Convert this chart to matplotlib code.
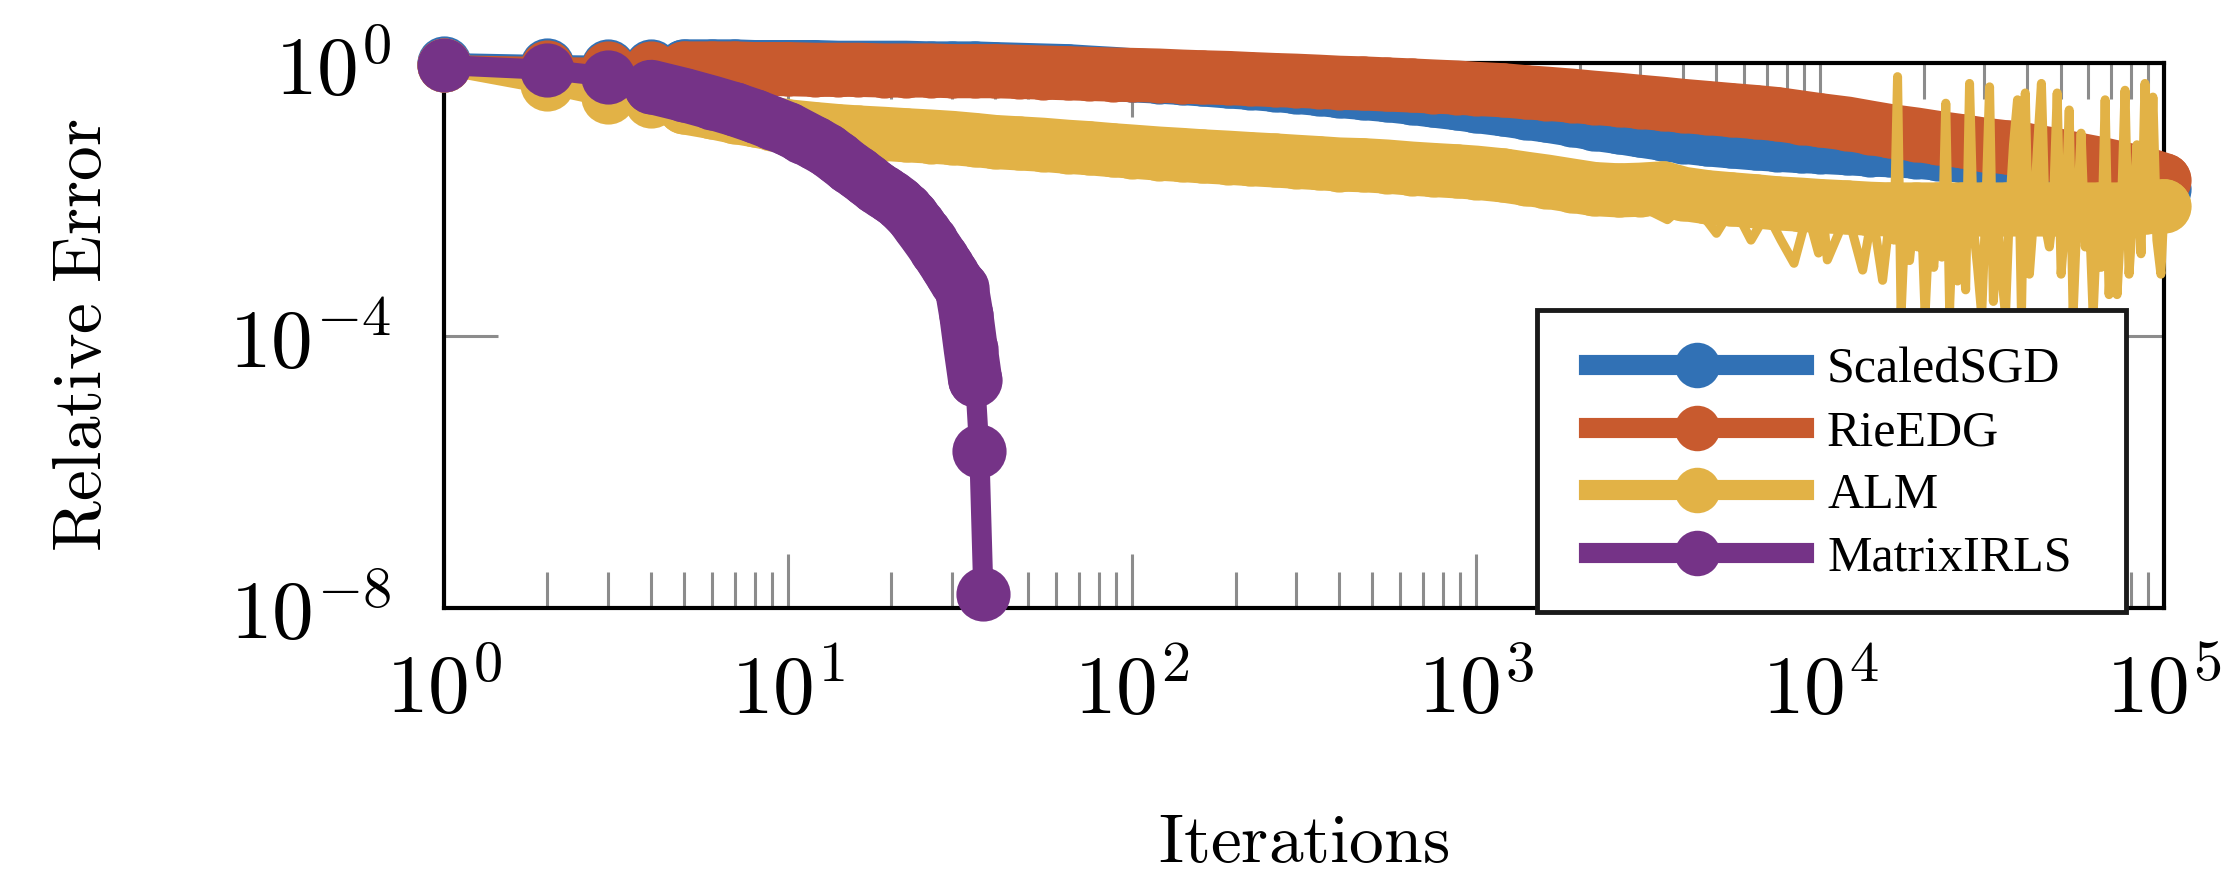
import numpy as np
import matplotlib
matplotlib.use('Agg')
import matplotlib.pyplot as plt
from matplotlib.patches import Rectangle
from matplotlib.ticker import LogLocator, NullLocator

plt.rcParams['mathtext.fontset'] = 'cm'

# iteration grid shared by ScaledSGD, RieEDG and ALM
iters = [1, 2, 3, 4, 5, 6, 7, 8, 9, 10,
         12, 14, 16, 19, 22, 26, 30, 35, 40, 47,
         55, 65, 75, 88, 100,
         120, 140, 160, 190, 220, 260, 300, 350, 400, 470,
         550, 650, 750, 880, 1000,
         1200, 1400, 1600, 1900, 2200, 2600, 3000, 3500, 4000, 4700,
         5500, 6500, 7500, 8800, 10000,
         12000, 14000, 16000, 19000, 22000, 26000, 30000, 35000, 40000, 47000,
         55000, 65000, 75000, 88000, 100000]

# log10 of relative error
sgd_log = [0.0, -0.03, -0.04, -0.04, -0.05, -0.05, -0.05, -0.06, -0.06, -0.06,
           -0.06, -0.07, -0.07, -0.07, -0.07, -0.08, -0.08, -0.08, -0.09, -0.10,
           -0.11, -0.12, -0.14, -0.16, -0.18,
           -0.20, -0.22, -0.24, -0.27, -0.29, -0.32, -0.35, -0.38, -0.41, -0.44,
           -0.47, -0.51, -0.55, -0.59, -0.63,
           -0.68, -0.73, -0.77, -0.83, -0.89, -0.94, -0.99, -1.04, -1.08, -1.12,
           -1.15, -1.18, -1.20, -1.22, -1.23,
           -1.25, -1.27, -1.28, -1.30, -1.33, -1.36, -1.39, -1.42, -1.45, -1.48,
           -1.53, -1.58, -1.64, -1.72, -1.85]

rie_log = [-0.03, -0.06, -0.07, -0.07, -0.08, -0.08, -0.08, -0.09, -0.09, -0.09,
           -0.10, -0.10, -0.10, -0.11, -0.11, -0.11, -0.12, -0.12, -0.12, -0.13,
           -0.14, -0.15, -0.16, -0.17, -0.175,
           -0.185, -0.20, -0.21, -0.22, -0.235, -0.25, -0.26, -0.275, -0.29, -0.30,
           -0.315, -0.33, -0.345, -0.36, -0.38,
           -0.40, -0.43, -0.45, -0.48, -0.51, -0.54, -0.57, -0.60, -0.63, -0.66,
           -0.69, -0.72, -0.75, -0.80, -0.84,
           -0.89, -0.95, -1.00, -1.05, -1.10, -1.15, -1.20, -1.24, -1.28, -1.34,
           -1.41, -1.48, -1.55, -1.63, -1.72]

alm_log = [-0.03, -0.31, -0.50, -0.56, -0.65, -0.72, -0.79, -0.84, -0.89, -0.93,
           -0.97, -1.00, -1.02, -1.04, -1.06, -1.08, -1.10, -1.13, -1.16, -1.18,
           -1.20, -1.23, -1.25, -1.28, -1.30,
           -1.33, -1.35, -1.37, -1.39, -1.41, -1.43, -1.45, -1.47, -1.49, -1.50,
           -1.52, -1.55, -1.57, -1.59, -1.61,
           -1.65, -1.70, -1.74, -1.80, -1.85, -1.87, -1.86, -1.84, -1.92, -1.97,
           -2.00, -2.03, -2.06, -2.08, -2.10,
           -2.12, -2.14, -2.15, -2.15, -2.15, -2.15, -2.15, -2.15, -2.15, -2.15,
           -2.15, -2.15, -2.15, -2.12, -2.10]

# ALM oscillations in the tail
alm_noise_iters = [3000, 3600, 4200, 5000, 5600, 6300, 7000, 7700, 8400, 9200,
                   9900, 10200, 10500, 12000, 13300, 14200, 15200,
                   16000, 16400, 16800, 17200, 17700, 18200, 18700, 19200, 19700, 20200,
                   20800, 21400, 22000, 22600, 23200, 23800, 24400, 25100, 25800, 26500,
                   27200, 27900, 28700, 29500, 30300, 31100, 31900, 32800, 33700, 34600,
                   35500, 36500, 37500, 38500, 39500, 40600, 41700, 42800, 44000, 45200,
                   46400, 47600, 48900, 50200, 51600, 53000, 54400, 55900, 57400, 59000,
                   60600, 62200, 63900, 65600, 67400, 69200, 71100, 73000, 75000, 77000,
                   79100, 81200, 83400, 85700, 88000, 90400, 92800, 95300, 97900, 100000]
alm_noise_log = [-2.1, -2.3, -2.0, -2.5, -2.1, -2.6, -2.2, -2.6, -2.94, -2.2,
                 -2.79, -2.2, -2.89, -2.2, -3.04, -2.2, -3.19,
                 -2.2, -2.6, -0.2, -3.7, -2.2, -2.9, -2.3, -2.7, -2.2, -3.7,
                 -2.3, -3.0, -2.2, -2.85, -0.59, -3.6, -2.2, -3.2, -2.3, -3.33,
                 -0.3, -2.4, -3.0, -3.7, -2.2, -0.35, -3.5, -2.3, -3.1, -3.7,
                 -2.2, -1.2, -0.54, -3.7, -0.44, -3.1, -2.3, -1.3, -0.3, -2.4,
                 -2.7, -2.2, -0.44, -3.1, -2.3, -0.69, -3.7, -2.2, -1.03, -2.7,
                 -2.2, -3.7, -2.3, -3.0, -0.54, -3.4, -2.2, -3.4, -2.3, -0.4,
                 -3.1, -2.2, -1.2, -2.8, -0.3, -2.3, -0.5, -2.6, -3.1, -2.1]

irls_iters = list(range(1, 38))
irls_log = [-0.03, -0.10, -0.20, -0.35, -0.47, -0.58, -0.68, -0.78, -0.88, -0.97,
            -1.08, -1.18, -1.28, -1.40, -1.52, -1.62, -1.72, -1.82, -1.90, -1.97,
            -2.05, -2.15, -2.25, -2.38, -2.50, -2.62, -2.74, -2.86, -2.98, -3.10,
            -3.22, -3.30, -3.70, -4.20, -4.65, -5.70, -7.80]

names = ['ScaledSGD', 'RieEDG', 'ALM', 'MatrixIRLS']
colors = ['#3171b5', '#c85a2e', '#e2b246', '#753387']

fig = plt.figure(figsize=(22.34, 8.8), dpi=100)
ax = fig.add_axes([0.1987, 0.3091, 0.77, 0.6193])
ax.set_xscale('log')
ax.set_yscale('log')
ax.set_xlim(1, 1e5)
ax.set_ylim(1e-8, 1)

lw = 14.5
ms = 39
# (x, log err, first index of the dense part, last index of the dense part)
series = [(iters, sgd_log, 4, None), (iters, rie_log, 4, None),
          (iters, alm_log, 4, None), (irls_iters, irls_log, 3, 35)]
handles = []
for (xs, ys, i0, i1), name, c in zip(series, names, colors):
    yv = 10.0 ** np.array(ys)
    h, = ax.plot(xs, yv, '-o', color=c, lw=lw, ms=ms, mew=0,
                 label=name, clip_on=False, zorder=3)
    handles.append(h)
    # dense iterations merge into a solid band
    ax.plot(xs[i0:i1], yv[i0:i1], '-', color=c, lw=ms, clip_on=False, zorder=3,
            solid_capstyle='round', solid_joinstyle='round')
    if name == 'ALM':
        ax.plot(alm_noise_iters, 10.0 ** np.array(alm_noise_log), '-', color=c,
                lw=6.5, clip_on=False, zorder=3)

ax.set_xticks([1, 10, 100, 1e3, 1e4, 1e5])
ax.set_xticklabels([r'$10^{0}$', r'$10^{1}$', r'$10^{2}$', r'$10^{3}$', r'$10^{4}$', r'$10^{5}$'])
ax.xaxis.set_minor_locator(LogLocator(base=10, subs=range(2, 10), numticks=30))
ax.set_yticks([1e-8, 1e-4, 1])
ax.set_yticklabels([r'$10^{-8}$', r'$10^{-4}$', r'$10^{0}$'])
ax.yaxis.set_minor_locator(NullLocator())
ax.set_axisbelow(True)
ax.tick_params(which='both', direction='in', top=True, right=True, color='0.55', width=2.2)
ax.tick_params(which='major', length=39)
ax.tick_params(which='minor', length=26)
ax.tick_params(axis='x', which='major', labelsize=60, pad=30)
ax.tick_params(axis='y', which='major', labelsize=60, pad=38)
for s in ax.spines.values():
    s.set_linewidth(3)
    s.set_color('black')

ax.set_xlabel(r'$\mathrm{Iterations}$', fontsize=50, va='center')
ax.xaxis.set_label_coords(0.5, -0.43)
ax.set_ylabel(r'$\mathrm{Relative\ Error}$', fontsize=50, va='center')
ax.yaxis.set_label_coords(-0.2105, 0.5)

# legend box
box = Rectangle((0.6355, -0.007), 0.3425, 0.554, transform=ax.transAxes,
                facecolor='white', edgecolor='0.1', lw=3.5, clip_on=False, zorder=4)
ax.add_patch(box)
leg = ax.legend(handles=handles, loc='upper left', bbox_to_anchor=(0.6657, 0.478),
                frameon=False, prop={'family': 'Liberation Serif', 'size': 36},
                handlelength=4.3, handletextpad=0.46, labelspacing=0.32,
                borderpad=0, borderaxespad=0, markerscale=0.84)
leg.set_zorder(5)

fig.savefig('out.png', dpi=100)
